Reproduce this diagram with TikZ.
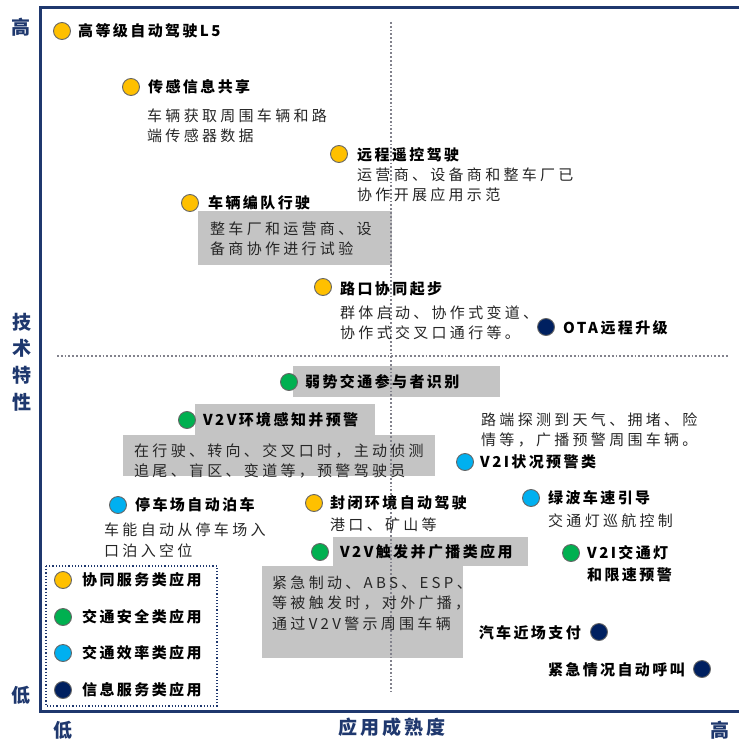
\documentclass[tikz,border=0pt]{standalone}
\usepackage{fontspec}
\setmainfont{Noto Sans CJK SC}
\newfontfamily\headfont[LetterSpace=16]{Noto Sans CJK SC}
\newfontfamily\notefont[LetterSpace=22]{Noto Sans CJK SC}
\newfontfamily\axisfont[LetterSpace=16]{Noto Sans CJK SC}
\definecolor{coopcol}{RGB}{255,192,0}
\definecolor{safecol}{RGB}{0,176,80}
\definecolor{effcol}{RGB}{0,176,240}
\definecolor{infocol}{RGB}{0,32,96}
\definecolor{framecol}{RGB}{31,56,110}
\definecolor{boxgray}{RGB}{196,196,196}
\definecolor{dividergray}{RGB}{130,130,140}
\pgfdeclarelayer{boxlayer}
\pgfsetlayers{boxlayer,main}
\tikzstyle{appdot}=[circle,draw=black!60,line width=0.9pt,minimum size=17pt,inner sep=0pt]
\tikzstyle{coopdot}=[appdot,fill=coopcol]
\tikzstyle{safedot}=[appdot,fill=safecol]
\tikzstyle{effdot}=[appdot,fill=effcol]
\tikzstyle{infodot}=[appdot,fill=infocol]
\tikzstyle{apphead}=[anchor=west,inner sep=0pt,align=left,font=\headfont\bfseries\fontsize{15}{22}\selectfont]
\tikzstyle{appnote}=[anchor=west,inner sep=0pt,align=left,text=black!85,font=\notefont\fontsize{15}{20.5}\selectfont]
\tikzstyle{greybox}=[fill=boxgray]
\tikzstyle{divider}=[draw=dividergray,line width=2.5pt,dash pattern=on 1.8pt off 2pt]
\tikzstyle{axislabel}=[text=framecol,inner sep=0pt,align=center,font=\axisfont\bfseries\fontsize{19}{26.7}\selectfont]

\begin{document}
\begin{tikzpicture}[x=1pt,y=-1pt]
	\useasboundingbox (0,0) rectangle (739,741);
	\begin{pgfonlayer}{boxlayer}
		% grey note boxes
		\fill [style=greybox] (198,211) rectangle (392,265);
		\fill [style=greybox] (293,366) rectangle (500,397);
		\fill [style=greybox] (195,404) rectangle (375,436);
		\fill [style=greybox] (123,435) rectangle (435,476);
		\fill [style=greybox] (333,537) rectangle (528,566);
		\fill [style=greybox] (262,566) rectangle (463,658);
		% quadrant dividers
		\draw [style=divider] (391,22) -- (391,692);
		\draw [style=divider] (57,356) -- (728,356);
		% axes frame
		\draw [draw=framecol,line width=3pt] (739,8) -- (40,8) -- (40,711) -- (739,711);
		% legend frame
		\draw [draw=framecol,line width=1.2pt,dotted] (46,566) rectangle (217,706);
	\end{pgfonlayer}

	% axis labels
	\node [style=axislabel] (yhigh) at (21,27) {高};
	\node [style=axislabel] (ylabel) at (22,362) {技\\术\\特\\性};
	\node [style=axislabel] (ylow) at (21,695) {低};
	\node [style=axislabel] (xlow) at (63,730) {低};
	\node [style=axislabel] (xlabel) at (392,727) {应用成熟度};
	\node [style=axislabel] (xhigh) at (720,730) {高};

	% upper half
	\node [style=coopdot] (l5) at (62,31) {};
	\node [style=apphead] (l5t) at (78,31) {高等级自动驾驶L5};
	\node [style=coopdot] (share) at (131,87) {};
	\node [style=apphead] (sharet) at (148,87) {传感信息共享};
	\node [style=appnote] (sharen) at (147,126) {车辆获取周围车辆和路\\端传感器数据};
	\node [style=coopdot] (remote) at (339,154) {};
	\node [style=apphead] (remotet) at (357,155) {远程遥控驾驶};
	\node [style=appnote] (remoten) at (357,185) {运营商、设备商和整车厂已\\协作开展应用示范};
	\node [style=coopdot] (platoon) at (190,203) {};
	\node [style=apphead] (platoont) at (208,203) {车辆编队行驶};
	\node [style=appnote] (platoonn) at (210,239) {整车厂和运营商、设\\备商协作进行试验};
	\node [style=coopdot] (cross) at (323,287) {};
	\node [style=apphead] (crosst) at (340,289) {路口协同起步};
	\node [style=appnote] (crossn) at (340,323) {群体启动、协作式变道、\\协作式交叉口通行等。};
	\node [style=infodot] (ota) at (546,327) {};
	\node [style=apphead] (otat) at (563,328) {OTA远程升级};

	% lower half
	\node [style=safedot] (vru) at (289,382) {};
	\node [style=apphead] (vrut) at (305,382) {弱势交通参与者识别};
	\node [style=safedot] (sense) at (187,420) {};
	\node [style=apphead] (senset) at (203,420) {V2V环境感知并预警};
	\node [style=appnote] (sensen) at (134,461) {在行驶、转向、交叉口时，主动侦测\\追尾、盲区、变道等，预警驾驶员};
	\node [style=effdot] (v2iwarn) at (465,462) {};
	\node [style=apphead] (v2iwarnt) at (480,462) {V2I状况预警类};
	\node [style=appnote] (v2iwarnn) at (481,430) {路端探测到天气、拥堵、险\\情等，广播预警周围车辆。};
	\node [style=effdot] (park) at (118,505) {};
	\node [style=apphead] (parkt) at (135,505) {停车场自动泊车};
	\node [style=appnote] (parkn) at (104,540) {车能自动从停车场入\\口泊入空位};
	\node [style=coopdot] (closed) at (314,503) {};
	\node [style=apphead] (closedt) at (330,503) {封闭环境自动驾驶};
	\node [style=appnote] (closedn) at (330,525) {港口、矿山等};
	\node [style=effdot] (green) at (531,498) {};
	\node [style=apphead] (greent) at (548,498) {绿波车速引导};
	\node [style=appnote] (greenn) at (548,521) {交通灯巡航控制};
	\node [style=safedot] (bcast) at (320,552) {};
	\node [style=apphead] (bcastt) at (340,552) {V2V触发并广播类应用};
	\node [style=appnote] (bcastn) at (272,603) {紧急制动、ABS、ESP、\\等被触发时，对外广播，\\通过V2V警示周围车辆};
	\node [style=safedot] (light) at (571,553) {};
	\node [style=apphead] (lightt) at (587,564) {V2I交通灯\\和限速预警};
	\node [style=infodot] (pay) at (599,632) {};
	\node [style=apphead,anchor=east] (payt) at (581,633) {汽车近场支付};
	\node [style=infodot] (ecall) at (702,669) {};
	\node [style=apphead,anchor=east] (ecallt) at (685,670) {紧急情况自动呼叫};

	% legend
	\node [style=coopdot] (lg1) at (63,580) {};
	\node [style=apphead] (lg1t) at (82,580) {协同服务类应用};
	\node [style=safedot] (lg2) at (63,617) {};
	\node [style=apphead] (lg2t) at (82,617) {交通安全类应用};
	\node [style=effdot] (lg3) at (63,653) {};
	\node [style=apphead] (lg3t) at (82,653) {交通效率类应用};
	\node [style=infodot] (lg4) at (63,690) {};
	\node [style=apphead] (lg4t) at (82,690) {信息服务类应用};
\end{tikzpicture}
\end{document}
